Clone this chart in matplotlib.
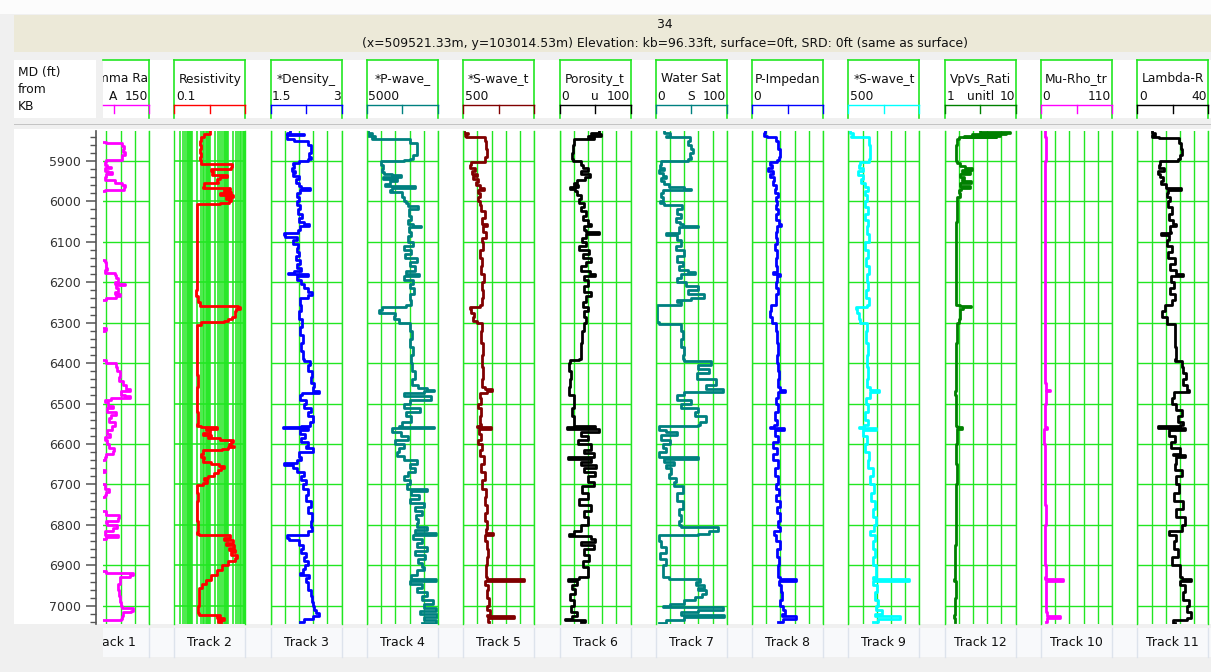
import numpy as np
import matplotlib
matplotlib.use("Agg")
import matplotlib.pyplot as plt
from matplotlib.patches import Rectangle
from matplotlib.transforms import Bbox
from matplotlib.ticker import LogLocator, FixedLocator, MultipleLocator

# ---- log curves: (MD ft, value) ----
gamma_ray = [(5826, 40), (5851, 40), (5853, 60), (5856, 92), (5862, 97), (5870, 95), (5878, 99),
             (5886, 93), (5895, 94), (5898, 60), (5903, 57), (5910, 62), (5915, 70), (5917, 58),
             (5924, 64), (5928, 72), (5932, 60), (5940, 58), (5948, 78), (5955, 93), (5960, 100),
             (5965, 97), (5973, 58), (5975, 40), (6143, 40), (6144, 58), (6150, 60), (6165, 62),
             (6170, 58), (6178, 78), (6182, 80), (6190, 85), (6200, 78), (6205, 99), (6208, 80),
             (6215, 84), (6225, 78), (6230, 88), (6235, 80), (6240, 60), (6243, 40), (6310, 40),
             (6312, 60), (6318, 58), (6320, 40), (6390, 40), (6392, 60), (6400, 80), (6410, 83),
             (6420, 88), (6435, 86), (6445, 95), (6455, 102), (6465, 110), (6470, 90), (6478, 100),
             (6482, 110), (6485, 70), (6490, 58), (6497, 64), (6505, 75), (6512, 62), (6520, 80),
             (6528, 70), (6535, 66), (6545, 78), (6555, 72), (6565, 62), (6575, 68), (6582, 58),
             (6590, 62), (6600, 66), (6610, 76), (6618, 74), (6625, 60), (6632, 56), (6640, 40),
             (6660, 40), (6663, 58), (6668, 56), (6670, 40), (6698, 40), (6700, 58), (6710, 66),
             (6718, 60), (6725, 58), (6730, 40), (6762, 40), (6765, 60), (6775, 86), (6782, 84),
             (6790, 60), (6795, 62), (6800, 82), (6808, 75), (6815, 58), (6825, 85), (6830, 60),
             (6835, 40), (6912, 40), (6914, 60), (6918, 116), (6925, 110), (6930, 88), (6945, 84),
             (6960, 86), (6975, 88), (6990, 90), (7000, 92), (7005, 116), (7012, 112), (7016, 95),
             (7025, 92), (7033, 90), (7036, 40), (7045, 40)]

resistivity = [(5826, 10.7), (5830, 10.7), (5834, 4.5), (5840, 3.2), (5850, 2.9), (5860, 3.3),
               (5870, 2.9), (5880, 3.1), (5890, 2.9), (5897, 3.0), (5905, 3.2), (5908, 180),
               (5915, 150), (5920, 12), (5925, 16), (5930, 14), (5934, 90), (5940, 40), (5945, 25),
               (5952, 30), (5955, 4.5), (5965, 4.0), (5968, 140), (5972, 60), (5976, 150), (5980, 40),
               (5985, 200), (5990, 80), (5995, 150), (6000, 120), (6003, 40), (6006, 2.0), (6020, 1.9),
               (6040, 2.0), (6060, 1.8), (6080, 2.0), (6100, 1.9), (6120, 1.8), (6150, 1.9), (6180, 1.8),
               (6200, 1.9), (6220, 1.7), (6235, 2.3), (6250, 2.9), (6255, 2.8), (6258, 400), (6262, 520),
               (6266, 300), (6270, 250), (6280, 260), (6285, 180), (6290, 100), (6295, 60), (6298, 3.0),
               (6305, 2.0), (6320, 1.9), (6350, 2.0), (6380, 1.9), (6400, 2.0), (6430, 2.1), (6460, 2.0),
               (6490, 1.9), (6520, 2.1), (6550, 2.0), (6555, 3.0), (6558, 25), (6562, 6), (6566, 10),
               (6572, 4), (6578, 12), (6582, 8), (6586, 40), (6590, 200), (6595, 150), (6600, 120),
               (6604, 220), (6608, 100), (6612, 50), (6616, 4), (6625, 3.0), (6632, 5), (6638, 4),
               (6645, 12), (6650, 35), (6655, 60), (6660, 45), (6665, 30), (6672, 18), (6678, 8),
               (6685, 5), (6690, 7), (6696, 4), (6702, 1.9), (6720, 2.1), (6740, 1.9), (6760, 2.0),
               (6790, 2.1), (6818, 2.0), (6822, 2.5), (6826, 140), (6832, 60), (6838, 200), (6845, 80),
               (6850, 220), (6856, 120), (6862, 250), (6868, 160), (6875, 340), (6882, 250), (6890, 100),
               (6900, 50), (6912, 25), (6925, 12), (6935, 6), (6945, 3.5), (6955, 2.5), (6980, 2.4),
               (7000, 2.3), (7018, 2.5), (7022, 40), (7026, 25), (7030, 60), (7036, 30), (7040, 45)]

density = [(5826, 1.90), (5830, 1.84), (5833, 2.20), (5836, 1.85), (5840, 1.85), (5845, 2.00),
           (5850, 2.28), (5860, 2.35), (5870, 2.36), (5880, 2.32), (5890, 2.35), (5895, 2.30),
           (5900, 2.10), (5905, 1.98), (5910, 2.00), (5918, 1.95), (5925, 2.02), (5930, 1.98),
           (5937, 2.10), (5945, 2.03), (5955, 2.10), (5962, 2.15), (5967, 2.33), (5972, 2.12),
           (5980, 2.06), (5990, 2.10), (6000, 2.05), (6010, 2.12), (6020, 2.08), (6030, 2.16),
           (6040, 2.10), (6050, 2.20), (6055, 2.32), (6060, 2.12), (6070, 2.08), (6078, 1.79),
           (6084, 1.80), (6088, 2.05), (6095, 1.98), (6105, 2.08), (6115, 2.05), (6125, 2.10),
           (6135, 2.03), (6145, 2.12), (6155, 2.05), (6165, 2.15), (6172, 2.00), (6176, 1.86),
           (6180, 2.30), (6185, 2.06), (6195, 2.15), (6205, 2.20), (6215, 2.28), (6225, 2.38),
           (6232, 2.30), (6240, 2.12), (6255, 2.15), (6270, 2.10), (6290, 2.16), (6310, 2.12),
           (6330, 2.18), (6350, 2.15), (6370, 2.18), (6390, 2.20), (6395, 2.33), (6405, 2.30),
           (6420, 2.38), (6435, 2.35), (6450, 2.42), (6460, 2.40), (6468, 2.52), (6473, 2.16),
           (6480, 2.12), (6490, 2.25), (6500, 2.20), (6510, 2.35), (6520, 2.30), (6530, 2.40),
           (6545, 2.33), (6555, 2.15), (6558, 1.76), (6560, 2.30), (6565, 2.12), (6575, 2.22),
           (6585, 2.15), (6595, 2.30), (6605, 2.25), (6610, 2.40), (6620, 2.10), (6632, 2.15),
           (6640, 2.05), (6647, 1.78), (6652, 1.98), (6660, 2.05), (6670, 2.20), (6680, 2.15),
           (6690, 2.25), (6700, 2.18), (6710, 2.30), (6725, 2.25), (6740, 2.35), (6755, 2.30),
           (6770, 2.38), (6790, 2.35), (6805, 2.38), (6815, 2.30), (6826, 1.85), (6832, 1.88),
           (6838, 2.10), (6850, 2.18), (6860, 2.15), (6870, 2.25), (6880, 2.20), (6890, 2.28),
           (6900, 2.22), (6910, 2.18), (6920, 2.12), (6925, 2.32), (6932, 2.25), (6940, 2.28),
           (6950, 2.30), (6960, 2.36), (6975, 2.38), (6990, 2.40), (7000, 2.42), (7010, 2.46),
           (7018, 2.52), (7025, 2.40), (7033, 2.20), (7040, 2.12)]

p_wave = [(5826, 5400), (5830, 6500), (5834, 5200), (5838, 7200), (5842, 6500), (5845, 17000),
          (5855, 19000), (5870, 19000), (5885, 18000), (5895, 17000), (5898, 15500), (5901, 9000),
          (5910, 9400), (5920, 9200), (5928, 9800), (5932, 12000), (5936, 14500), (5940, 9500),
          (5944, 13500), (5950, 11500), (5958, 10000), (5962, 18500), (5967, 12000), (5972, 11500),
          (5978, 15000), (5990, 15500), (6000, 16000), (6005, 16500), (6012, 19500), (6020, 16800),
          (6035, 17500), (6045, 16500), (6055, 18000), (6060, 20300), (6063, 16800), (6075, 17500),
          (6085, 16500), (6100, 18000), (6110, 15500), (6120, 17500), (6130, 15800), (6140, 19000),
          (6150, 17000), (6160, 18500), (6172, 16000), (6180, 19800), (6185, 15500), (6195, 18000),
          (6205, 17000), (6215, 18200), (6230, 17000), (6245, 17500), (6255, 16000), (6260, 9200),
          (6268, 8500), (6275, 13000), (6283, 12500), (6290, 14000), (6300, 17000), (6320, 17800),
          (6340, 17200), (6360, 18000), (6380, 17500), (6400, 17800), (6420, 18500), (6440, 17800),
          (6455, 19500), (6462, 22000), (6466, 24000), (6470, 21000), (6475, 15500), (6482, 23000),
          (6490, 17000), (6500, 15500), (6510, 20000), (6520, 16000), (6530, 17500), (6545, 15000),
          (6555, 14000), (6558, 24000), (6561, 12000), (6570, 14500), (6580, 16500), (6590, 13000),
          (6600, 15500), (6610, 14000), (6620, 13500), (6630, 15500), (6640, 19000), (6650, 17000),
          (6660, 18500), (6670, 16500), (6680, 15500), (6690, 17000), (6700, 16200), (6710, 22000),
          (6715, 17500), (6725, 19800), (6735, 17200), (6745, 21000), (6755, 18500), (6765, 20500),
          (6775, 18800), (6785, 19500), (6795, 19000), (6805, 22000), (6812, 18500), (6820, 24500),
          (6825, 18000), (6835, 20500), (6845, 19000), (6855, 22000), (6865, 18500), (6875, 21500),
          (6885, 19500), (6895, 20500), (6905, 21000), (6912, 19000), (6925, 17500), (6933, 24500),
          (6938, 17000), (6945, 20500), (6955, 19000), (6965, 22000), (6975, 20500), (6985, 23500),
          (6995, 21000), (7005, 24500), (7012, 20000), (7020, 24800), (7028, 21000), (7035, 24500),
          (7042, 20500)]

s_wave = [(5826, 650), (5830, 1200), (5834, 700), (5838, 900), (5840, 3500), (5850, 3700),
          (5870, 3800), (5890, 3600), (5898, 3500), (5903, 1600), (5910, 1500), (5918, 2100),
          (5925, 1700), (5932, 2400), (5938, 1900), (5945, 2600), (5952, 2300), (5960, 2800),
          (5966, 3400), (5972, 2600), (5980, 2900), (5990, 2600), (6000, 2800), (6010, 3000),
          (6025, 3500), (6040, 3200), (6055, 3800), (6060, 3300), (6075, 3700), (6090, 3100),
          (6100, 3300), (6120, 2900), (6140, 3200), (6160, 3000), (6180, 3400), (6200, 3100),
          (6220, 3300), (6240, 3100), (6255, 2900), (6260, 1500), (6265, 1600), (6275, 2000),
          (6285, 1900), (6295, 2500), (6300, 3200), (6320, 3000), (6350, 3300), (6380, 3100),
          (6410, 3300), (6440, 3200), (6460, 3600), (6465, 4500), (6470, 3900), (6475, 2800),
          (6485, 3000), (6500, 2600), (6510, 3000), (6530, 2800), (6550, 3000), (6555, 2400),
          (6558, 4400), (6562, 2700), (6575, 3000), (6590, 2600), (6600, 3200), (6615, 2900),
          (6630, 3400), (6650, 3000), (6670, 3500), (6690, 3200), (6710, 3700), (6730, 3500),
          (6750, 3900), (6770, 3600), (6790, 3800), (6810, 3700), (6820, 4700), (6825, 3500),
          (6840, 3900), (6860, 4000), (6880, 3800), (6900, 3700), (6930, 3900), (6934, 9000),
          (6939, 3500), (6948, 4000), (6960, 3900), (6980, 4100), (7000, 3900), (7010, 4300),
          (7022, 3800), (7025, 7600), (7030, 4000), (7040, 4100)]

porosity = [(5826, 55), (5830, 45), (5834, 58), (5838, 40), (5842, 48), (5845, 20), (5860, 19),
            (5880, 18), (5895, 19), (5900, 30), (5910, 33), (5918, 40), (5925, 30), (5932, 43),
            (5940, 36), (5948, 25), (5955, 21), (5960, 26), (5965, 15), (5970, 22), (5975, 24),
            (5985, 30), (5995, 28), (6005, 34), (6015, 30), (6025, 38), (6035, 33), (6045, 40),
            (6055, 45), (6060, 35), (6070, 38), (6075, 55), (6080, 38), (6090, 32), (6100, 38),
            (6110, 28), (6120, 42), (6130, 33), (6140, 44), (6150, 37), (6160, 30), (6172, 43),
            (6180, 50), (6185, 34), (6195, 40), (6210, 35), (6225, 44), (6235, 38), (6250, 33),
            (6260, 40), (6270, 35), (6285, 38), (6300, 35), (6320, 32), (6350, 30), (6380, 30),
            (6390, 28), (6392, 15), (6400, 14), (6420, 16), (6440, 15), (6460, 13), (6475, 14),
            (6478, 20), (6490, 20), (6510, 18), (6530, 20), (6550, 21), (6555, 50), (6558, 10),
            (6563, 55), (6570, 30), (6580, 40), (6590, 26), (6600, 45), (6615, 35), (6622, 48),
            (6632, 12), (6637, 45), (6645, 30), (6652, 52), (6660, 35), (6670, 50), (6680, 40),
            (6695, 48), (6705, 32), (6720, 40), (6735, 28), (6750, 44), (6765, 34), (6780, 40),
            (6800, 30), (6815, 20), (6822, 14), (6828, 44), (6835, 50), (6843, 30), (6850, 48),
            (6860, 35), (6875, 42), (6890, 33), (6905, 40), (6930, 28), (6934, 12), (6939, 25),
            (6948, 18), (6958, 22), (6970, 15), (6985, 20), (7000, 16), (7015, 24), (7025, 18),
            (7032, 8), (7036, 36), (7040, 30)]

water_sat = [(5826, 12), (5832, 20), (5838, 15), (5842, 48), (5850, 45), (5860, 50), (5870, 52),
             (5880, 48), (5890, 50), (5896, 46), (5900, 8), (5910, 6), (5918, 12), (5922, 4),
             (5930, 10), (5938, 15), (5942, 8), (5950, 12), (5958, 18), (5965, 40), (5970, 50),
             (5973, 10), (5980, 8), (5990, 10), (6000, 6), (6005, 12), (6010, 37), (6020, 30),
             (6030, 35), (6040, 28), (6050, 34), (6055, 38), (6060, 60), (6063, 32), (6078, 15),
             (6082, 30), (6095, 35), (6110, 28), (6120, 40), (6135, 30), (6150, 38), (6160, 32),
             (6170, 45), (6175, 55), (6180, 35), (6190, 30), (6200, 42), (6210, 60), (6220, 45),
             (6230, 68), (6240, 50), (6245, 30), (6250, 36), (6255, 2), (6270, 1), (6290, 2),
             (6298, 4), (6302, 36), (6320, 38), (6340, 36), (6360, 40), (6380, 38), (6390, 40),
             (6395, 78), (6405, 60), (6415, 75), (6425, 58), (6440, 85), (6455, 70), (6465, 94),
             (6472, 40), (6478, 30), (6490, 50), (6500, 35), (6510, 60), (6520, 55), (6530, 70),
             (6545, 62), (6553, 60), (6556, 5), (6565, 15), (6570, 30), (6578, 8), (6590, 20),
             (6600, 10), (6610, 15), (6620, 5), (6632, 60), (6637, 12), (6645, 25), (6652, 15),
             (6660, 22), (6675, 18), (6685, 28), (6695, 25), (6705, 38), (6720, 30), (6740, 38),
             (6760, 32), (6775, 36), (6790, 32), (6800, 35), (6805, 88), (6815, 75), (6822, 60),
             (6826, 5), (6840, 8), (6855, 15), (6870, 6), (6885, 14), (6900, 10), (6930, 18),
             (6934, 62), (6940, 56), (6948, 68), (6955, 60), (6962, 70), (6970, 65), (6978, 55),
             (6985, 40), (6995, 20), (7000, 10), (7004, 94), (7010, 60), (7015, 35), (7022, 96),
             (7028, 40), (7035, 15), (7042, 5)]

p_impedance = [(5826, 9000), (5832, 8700), (5838, 10500), (5842, 17000), (5850, 18500), (5870, 19300),
               (5890, 18800), (5898, 17500), (5902, 12500), (5910, 14000), (5918, 11500), (5925, 14500),
               (5932, 12500), (5940, 15500), (5950, 14500), (5960, 17000), (5970, 16000), (5980, 18000),
               (5990, 17000), (6000, 17500), (6010, 16800), (6020, 18000), (6030, 16500), (6045, 18800),
               (6055, 20500), (6060, 17500), (6075, 16500), (6090, 17800), (6105, 16000), (6120, 17500),
               (6140, 16500), (6160, 17800), (6175, 14500), (6180, 19500), (6185, 17500), (6200, 16500),
               (6215, 18000), (6230, 16500), (6245, 17000), (6255, 13500), (6270, 12500), (6285, 14000),
               (6300, 16500), (6320, 17500), (6350, 18000), (6380, 17500), (6400, 18500), (6420, 19000),
               (6440, 18200), (6460, 19500), (6466, 23500), (6472, 18000), (6485, 16500), (6500, 18500),
               (6520, 16000), (6540, 17500), (6553, 15500), (6557, 12500), (6560, 22500), (6565, 16000),
               (6580, 18000), (6595, 14800), (6610, 17500), (6625, 15000), (6640, 18500), (6660, 16000),
               (6680, 18500), (6700, 16500), (6710, 19000), (6725, 17000), (6740, 20000), (6755, 17500),
               (6770, 19500), (6790, 18000), (6805, 19500), (6815, 15500), (6825, 17000), (6840, 19500),
               (6860, 17500), (6880, 19000), (6900, 18000), (6930, 19500), (6934, 30800), (6939, 19000),
               (6948, 20500), (6965, 21000), (6985, 20000), (7000, 21500), (7010, 23500), (7020, 21000),
               (7025, 30800), (7032, 22000), (7040, 18500)]

s_wave_2 = [(5826, 700), (5832, 1100), (5838, 900), (5842, 3400), (5860, 3600), (5880, 3500),
            (5895, 3400), (5902, 2200), (5910, 2000), (5918, 2600), (5925, 1900), (5935, 2500),
            (5945, 2300), (5955, 2900), (5965, 3300), (5975, 2800), (5985, 3100), (6000, 2900),
            (6015, 3200), (6030, 2900), (6045, 3300), (6060, 3100), (6080, 3400), (6100, 2900),
            (6120, 3200), (6140, 3000), (6160, 3400), (6180, 3100), (6200, 3300), (6220, 3000),
            (6240, 3400), (6255, 3100), (6260, 1500), (6265, 1700), (6275, 2000), (6290, 2200),
            (6300, 3100), (6320, 3000), (6350, 3200), (6380, 3100), (6410, 3300), (6440, 3100),
            (6460, 3500), (6466, 4800), (6472, 3600), (6485, 3000), (6500, 3300), (6520, 2800),
            (6540, 3200), (6553, 2700), (6557, 2000), (6560, 4400), (6565, 2600), (6580, 3100),
            (6600, 2800), (6620, 3400), (6640, 3200), (6660, 3900), (6680, 3500), (6700, 4100),
            (6720, 3700), (6740, 4300), (6760, 3900), (6780, 4400), (6800, 4100), (6815, 3500),
            (6825, 4200), (6840, 3900), (6860, 4300), (6880, 3900), (6900, 4400), (6930, 4000),
            (6934, 9000), (6939, 3900), (6948, 4500), (6965, 4200), (6985, 4700), (7000, 4400),
            (7010, 5200), (7020, 4300), (7025, 7700), (7032, 4600), (7040, 4000)]

vpvs = [(5826, 5.5), (5828, 9.3), (5830, 6.0), (5832, 8.8), (5834, 4.5), (5836, 8.0), (5838, 3.5),
        (5840, 7.5), (5842, 2.8), (5845, 2.5), (5860, 2.4), (5880, 2.45), (5895, 2.4), (5900, 2.5),
        (5905, 3.0), (5912, 3.6), (5918, 4.4), (5922, 3.2), (5928, 4.2), (5933, 2.9), (5940, 3.5),
        (5945, 3.2), (5950, 4.3), (5955, 3.0), (5962, 4.2), (5966, 3.1), (5972, 2.8), (5980, 3.0),
        (5990, 2.6), (6000, 2.5), (6050, 2.45), (6100, 2.4), (6150, 2.45), (6200, 2.4), (6250, 2.45),
        (6255, 2.9), (6258, 4.3), (6262, 3.3), (6266, 3.0), (6275, 2.9), (6290, 2.8), (6300, 2.5),
        (6350, 2.4), (6400, 2.45), (6450, 2.4), (6470, 2.3), (6480, 2.4), (6500, 2.45), (6555, 2.5),
        (6558, 3.2), (6562, 2.5), (6600, 2.45), (6650, 2.5), (6700, 2.4), (6750, 2.45), (6800, 2.4),
        (6850, 2.35), (6934, 2.2), (6939, 2.4), (6980, 2.3), (7000, 2.35), (7022, 2.2), (7030, 2.3),
        (7040, 2.3)]

mu_rho = [(5826, 6.5), (5840, 7), (5870, 7.5), (5900, 6), (5940, 6.5), (5980, 5.5), (6000, 6),
          (6050, 5.5), (6100, 6), (6150, 5.5), (6200, 6.5), (6250, 6), (6300, 5.5), (6350, 6),
          (6400, 6.5), (6450, 7), (6462, 8), (6466, 14), (6470, 8), (6500, 6.5), (6550, 6),
          (6558, 9), (6562, 5), (6600, 5.5), (6650, 6), (6700, 6.5), (6750, 7), (6800, 6.5),
          (6850, 6.5), (6900, 7), (6930, 6.5), (6934, 34), (6939, 7), (6960, 7), (7000, 7.5),
          (7015, 9), (7025, 29), (7030, 9), (7040, 8)]

lambda_rho = [(5826, 8), (5832, 10), (5836, 8.5), (5840, 12), (5843, 23.5), (5855, 24.5), (5870, 25),
              (5885, 24), (5896, 23), (5901, 13), (5910, 12.5), (5918, 15), (5925, 11.5), (5933, 13),
              (5940, 14.5), (5950, 13.5), (5958, 16), (5966, 24.5), (5972, 17.5), (5980, 17),
              (5990, 18.5), (6000, 17.5), (6015, 19.5), (6030, 18), (6045, 20), (6055, 22), (6060, 18.5),
              (6075, 19), (6078, 13.5), (6083, 18), (6095, 17), (6110, 19.5), (6125, 17.5), (6140, 21),
              (6155, 18.5), (6170, 22), (6180, 25.5), (6185, 19), (6200, 20.5), (6215, 18.5), (6230, 21),
              (6245, 19.5), (6255, 15.5), (6270, 14), (6285, 16.5), (6298, 17), (6302, 21.5), (6330, 21),
              (6360, 22), (6390, 21.5), (6395, 25), (6410, 26), (6425, 27.5), (6440, 26), (6455, 28),
              (6466, 29), (6472, 20.5), (6485, 19.5), (6500, 22), (6515, 25), (6530, 23), (6545, 26),
              (6553, 24), (6556, 11.5), (6560, 27), (6565, 18), (6580, 21), (6595, 19), (6610, 24),
              (6625, 20), (6628, 27), (6632, 22), (6650, 21), (6665, 25), (6680, 22), (6700, 23.5),
              (6720, 20.5), (6740, 26), (6760, 22), (6780, 27), (6800, 25), (6815, 18), (6825, 22),
              (6840, 20.5), (6860, 23), (6880, 19.5), (6900, 24), (6930, 25), (6934, 30.5), (6939, 24),
              (6948, 27), (6965, 26), (6985, 29), (7000, 28), (7015, 30), (7030, 28), (7036, 20),
              (7042, 21)]

# name, left / unit / right scale text, scale min, max, log?, colour, curve, footer
tracks = [
    ("Gamma Ra", "0", "A", "150", 0, 150, False, "#ff00ff", gamma_ray, "Track 1"),
    ("Resistivity", "0.1", "", "", 0.1, 1000, True, "#ff0000", resistivity, "Track 2"),
    ("*Density_", "1.5", "", "3", 1.5, 3, False, "#0000ff", density, "Track 3"),
    ("*P-wave_", "5000", "", "", 5000, 25000, False, "#008080", p_wave, "Track 4"),
    ("*S-wave_t", "500", "", "", 500, 10500, False, "#800000", s_wave, "Track 5"),
    ("Porosity_t", "0", "u", "100", 0, 100, False, "#000000", porosity, "Track 6"),
    ("Water Sat", "0", "S", "100", 0, 100, False, "#008080", water_sat, "Track 7"),
    ("P-Impedan", "0", "", "", 0, 50000, False, "#0000ff", p_impedance, "Track 8"),
    ("*S-wave_t", "500", "", "", 500, 10500, False, "#00ffff", s_wave_2, "Track 9"),
    ("VpVs_Rati", "1", "unitl", "10", 1, 10, False, "#008000", vpvs, "Track 12"),
    ("Mu-Rho_tr", "0", "", "110", 0, 110, False, "#ff00ff", mu_rho, "Track 10"),
    ("Lambda-R", "0", "", "40", 0, 40, False, "#000000", lambda_rho, "Track 11"),
]

W, H = 1211, 672
TOP_MD, BASE_MD = 5826, 7045
GRID = "#22e622"
CLIP_X = 103          # tracks are scrolled: nothing is drawn left of this

fig = plt.figure(figsize=(W / 100, H / 100), dpi=100)
fig.patch.set_facecolor("#f0f0f0")


def px_axes(x0, y0, x1, y1):
    return fig.add_axes([x0 / W, 1 - y1 / H, (x1 - x0) / W, (y1 - y0) / H])


bg = px_axes(0, 0, W, H)
bg.set_xlim(0, W)
bg.set_ylim(H, 0)
bg.axis("off")


def rect(x, y, w, h, fc, ec="none", lw=0):
    bg.add_patch(Rectangle((x, y), w, h, facecolor=fc, edgecolor=ec, lw=lw))


rect(0, 0, W, 14, "#fcfcfc")
rect(14, 15, W - 14, 37, "#ece9d8")
rect(14, 60, 82, 58, "white")
rect(CLIP_X, 60, W - CLIP_X, 58, "white")
rect(14, 123.5, W - 14, 1.6, "#c4c4c4")
rect(14, 129, W - 14, 495, "white")
rect(CLIP_X, 628, W - CLIP_X, 29, "#f8f9fb")

bg.text(665, 25, "34", ha="center", va="center", fontsize=8.9, color="#111111")
bg.text(665, 43, "(x=509521.33m, y=103014.53m) Elevation: kb=96.33ft, surface=0ft, SRD: 0ft (same as surface)",
        ha="center", va="center", fontsize=8.9, color="#111111")
bg.text(18, 66, "MD (ft)\nfrom\nKB", ha="left", va="top", fontsize=8.8, linespacing=1.4, color="#111111")

clip = Bbox.from_extents(CLIP_X, 0, W, H)   # display pixels, origin bottom-left


def clipped_text(x, y, s, **kw):
    t = bg.text(x, y, s, va="center", color="#111111", **kw)
    t.set_clip_box(clip)
    t.set_clip_on(True)
    return t


# depth scale
ad = px_axes(96, 131, 96.5, 624)
ad.set_ylim(BASE_MD, TOP_MD)
ad.set_xticks([])
ad.patch.set_visible(False)
for s in ("top", "right", "bottom"):
    ad.spines[s].set_visible(False)
ad.spines["left"].set_color("#555555")
ad.spines["left"].set_linewidth(1.2)
ad.yaxis.set_major_locator(FixedLocator(np.arange(5900, 7001, 100)))
ad.yaxis.set_minor_locator(MultipleLocator(20))
ad.tick_params(axis="y", which="major", length=7.5, width=1.1, color="#555555",
               labelsize=9, labelcolor="#333333", pad=3.5)
ad.tick_params(axis="y", which="minor", length=4, width=1.0, color="#555555")

for i, (name, lo_txt, unit, hi_txt, lo, hi, is_log, color, curve, footer) in enumerate(tracks):
    left = 78 + 96.3 * i
    right = left + 71
    mid = (left + right) / 2
    vis = max(left, CLIP_X)

    ax = px_axes(vis, 131, right, 624)
    ax.set_facecolor("white")
    if is_log:
        ax.set_xscale("log")
        ax.xaxis.set_major_locator(LogLocator(base=10, numticks=10))
        ax.xaxis.set_minor_locator(LogLocator(base=10, subs=np.arange(2, 10), numticks=50))
        ax.set_xlim(lo, hi)
        grid_lw = 1.15
    else:
        ax.set_xticks(np.linspace(lo, hi, 6))
        ax.set_xlim(lo + (hi - lo) * (vis - left) / 71, hi)
        grid_lw = 1.0
    ax.set_yticks(np.arange(5900, 7001, 100))
    ax.set_ylim(BASE_MD, TOP_MD)
    ax.set_axisbelow(True)
    ax.grid(True, which="both", color=GRID, lw=grid_lw)
    ax.tick_params(which="both", length=0, labelbottom=False, labelleft=False)
    for s in ("top", "bottom"):
        ax.spines[s].set_visible(False)
    for s in ("left", "right"):
        ax.spines[s].set_color(GRID)
        ax.spines[s].set_linewidth(1.0)
    if left < CLIP_X:
        ax.spines["left"].set_visible(False)

    md, val = np.array(curve).T
    ax.plot(val, md, color=color, lw=2.0, drawstyle="steps-pre")

    # header box
    bg.plot([vis, right], [60, 60], color=GRID, lw=1.2)
    bg.plot([right, right], [60, 118], color=GRID, lw=1.2)
    if left >= CLIP_X:
        bg.plot([left, left], [60, 118], color=GRID, lw=1.2)
    bg.plot([vis, right], [105, 105], color=color, lw=1.0)
    for tx in (left, mid, right):
        if tx >= CLIP_X:
            bg.plot([tx, tx], [105, 113], color=color, lw=1.0)
    clipped_text(mid, 79, name, ha="center", fontsize=8.8)
    clipped_text(left + 1.5, 97, lo_txt, ha="left", fontsize=8.8)
    if unit:
        clipped_text(mid, 97, unit, ha="center", fontsize=8.8)
    if hi_txt:
        clipped_text(right - 1, 97, hi_txt, ha="right", fontsize=8.8)

    # footer
    for sx in (left, right):
        if sx >= CLIP_X:
            bg.plot([sx, sx], [628, 657], color="#dde3ec", lw=1.0)
    clipped_text(mid, 643, footer, ha="center", fontsize=9)

fig.savefig("out.png", dpi=100, facecolor=fig.get_facecolor())
